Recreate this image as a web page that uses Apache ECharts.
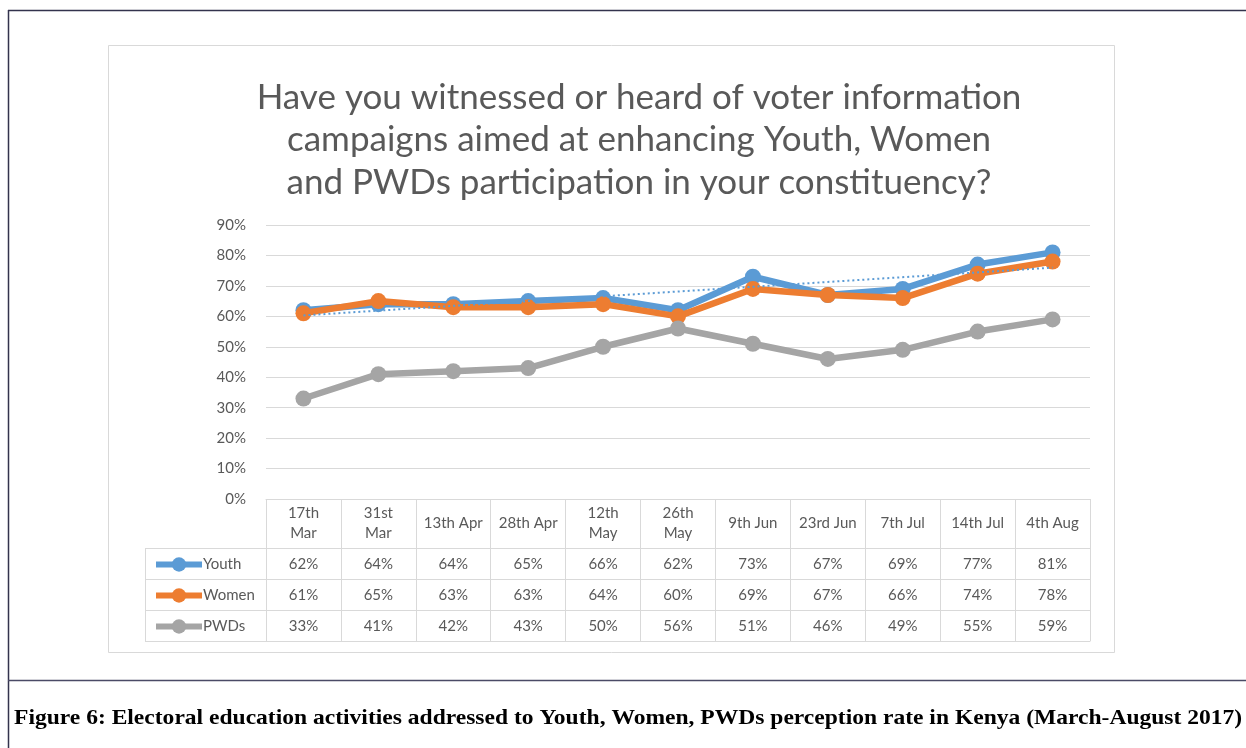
<!DOCTYPE html>
<html>
<head>
<meta charset="utf-8">
<script src="https://cdn.jsdelivr.net/npm/echarts@6/dist/echarts.min.js"></script>
<style>html,body{margin:0;padding:0;background:#fff}#c{width:1246px;height:748px}</style>
</head>
<body>
<div id="c"></div>
<script>
const categories = ['17th\nMar','31st\nMar','13th Apr','28th Apr','12th\nMay','26th\nMay','9th Jun','23rd Jun','7th Jul','14th Jul','4th Aug'];
const seriesNames = ['Youth','Women','PWDs'];
const youth = [62,64,64,65,66,62,73,67,69,77,81];
const women = [61,65,63,63,64,60,69,67,66,74,78];
const pwds = [33,41,42,43,50,56,51,46,49,55,59];
const youthTrendEnds = [60.3, 76.0];
const yTickValues = [0,10,20,30,40,50,60,70,80,90];
const titleText = 'Have you witnessed or heard of voter information\ncampaigns aimed at enhancing Youth, Women\nand PWDs participation in your constituency?';
const captionText = 'Figure 6: Electoral education activities addressed to Youth, Women, PWDs perception rate in Kenya (March-August 2017)';

const colors = ['#5b9bd5','#ed7d31','#a5a5a5'];
const values = [youth, women, pwds];
const GRID_L = 266, GRID_R = 1090, GRID_T = 225, GRID_B = 499;
const ROW_H = 31, HEAD_H = 49;
const lineC = '#d9d9d9', textC = '#595959';
const FONT = 'Lato';

const trendData = categories.map((c,i)=> i===0 ? youthTrendEnds[0] : (i===categories.length-1 ? youthTrendEnds[1] : null));

const xAxes = [{
  type:'category', data:categories, gridIndex:0, position:'bottom',
  boundaryGap:true,
  axisLine:{show:true, lineStyle:{color:lineC, width:1}},
  axisTick:{show:true, length:HEAD_H + ROW_H*3, interval:0, lineStyle:{color:lineC}},
  axisLabel:{interval:0, margin:24, verticalAlign:'middle', color:textC, fontFamily:FONT, fontSize:15, lineHeight:20, align:'center'},
  splitLine:{show:false}
}];
values.forEach((arr, k) => {
  xAxes.push({
    type:'category', data:arr.map(v=>v+'%'), gridIndex:0, position:'bottom',
    offset: HEAD_H + ROW_H*k,
    axisLine:{show:true, lineStyle:{color:lineC, width:1}},
    axisTick:{show:false},
    axisLabel:{interval:0, margin:16, verticalAlign:'middle', color:textC, fontFamily:FONT, fontSize:15},
    splitLine:{show:false}
  });
});
xAxes.push({
  type:'category', data:categories, gridIndex:0, position:'bottom',
  offset: HEAD_H + ROW_H*3,
  axisLine:{show:true, lineStyle:{color:lineC, width:1}},
  axisTick:{show:false}, axisLabel:{show:false}, splitLine:{show:false}
});

const series = values.map((arr,k)=>({
  name: seriesNames[k], type:'line', xAxisIndex:0, yAxisIndex:0, data:arr,
  symbol:'circle', symbolSize:16,
  lineStyle:{width:6.5, color:colors[k]},
  itemStyle:{color:colors[k]},
  z: 3+k
}));
series.push({
  name:'trend', type:'line', xAxisIndex:0, yAxisIndex:0, data:trendData,
  connectNulls:true, symbol:'none', lineStyle:{width:2, type:[2,3], color:colors[0]},
  z:10, silent:true
});

const legendLineYs = [HEAD_H, HEAD_H+ROW_H, HEAD_H+2*ROW_H, HEAD_H+3*ROW_H].map(o=>GRID_B+o);

const graphics = [
  {type:'rect', shape:{x:108.5, y:45.5, width:1006, height:607}, style:{fill:'none', stroke:lineC, lineWidth:1}, z:0},
  // outer frame
  {type:'line', shape:{x1:8, y1:10.5, x2:1246, y2:10.5}, style:{stroke:'#33334d', lineWidth:1.5}},
  {type:'line', shape:{x1:8.5, y1:10, x2:8.5, y2:748}, style:{stroke:'#33334d', lineWidth:1.5}},
  {type:'line', shape:{x1:8, y1:680.5, x2:1246, y2:680.5}, style:{stroke:'#4a4a66', lineWidth:1.5}},
  // legend column grid
  {type:'line', shape:{x1:145.5, y1:legendLineYs[0], x2:145.5, y2:legendLineYs[3]}, style:{stroke:lineC, lineWidth:1}},
  ...legendLineYs.map(y=>({type:'line', shape:{x1:145, y1:y+0.5, x2:GRID_L, y2:y+0.5}, style:{stroke:lineC, lineWidth:1}})),
  {type:'text', x:14, y:718, scaleX:1.07, originX:0, originY:0,
    style:{text:captionText, font:'bold 22px "Liberation Serif"', fill:'#000', verticalAlign:'middle'}}
];

const chart = echarts.init(document.getElementById('c'), null, {renderer:'canvas'});
chart.setOption({
  animation:false,
  backgroundColor:'#fff',
  title:{text:titleText, left:634, textAlign:'center', top:71,
    textStyle:{fontFamily:FONT, fontSize:35, fontWeight:'normal', color:textC, lineHeight:42.5}},
  grid:{left:GRID_L, right:1246-GRID_R, top:GRID_T, bottom:748-GRID_B, containLabel:false},
  legend:{orient:'vertical', left:148, top:legendLineYs[0]+4, itemGap:16, itemWidth:46, itemHeight:18,
    data:seriesNames, lineStyle:{width:6}, textStyle:{color:textC, fontFamily:FONT, fontSize:15, padding:[0,0,0,-4]}},
  xAxis:xAxes,
  yAxis:{type:'value', min:0, max:90, interval:10,
    axisLine:{show:false}, axisTick:{show:false},
    axisLabel:{formatter:v=>v+'%', color:textC, fontFamily:FONT, fontSize:15, margin:20},
    splitLine:{lineStyle:{color:lineC, width:1}}},
  series:series,
  graphic:graphics
});
</script>
</body>
</html>
